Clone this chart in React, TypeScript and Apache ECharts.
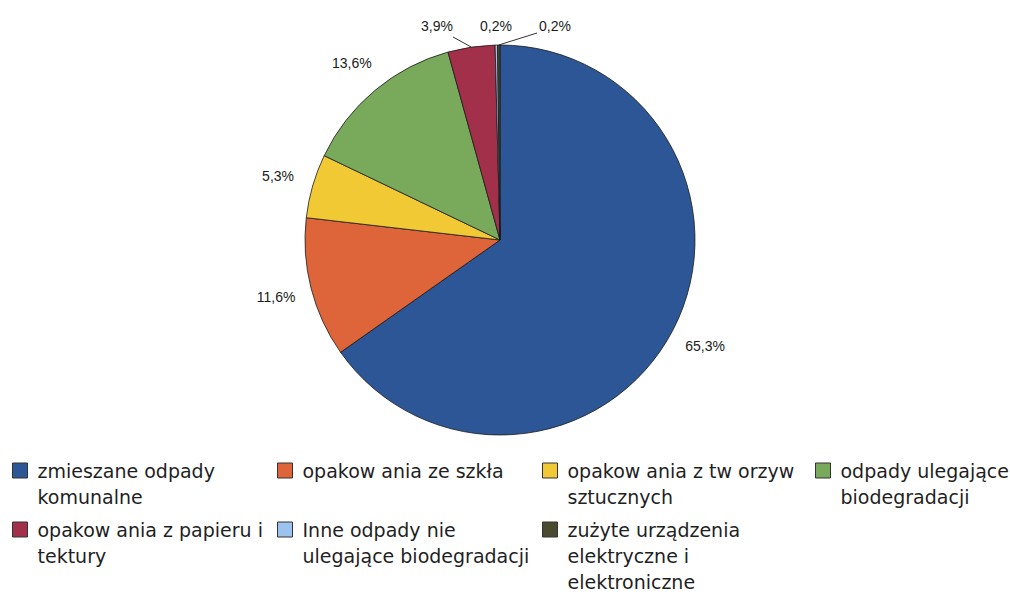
import React, { useEffect, useRef } from "react";
import * as echarts from "echarts";

const categories = [
  "zmieszane odpady\nkomunalne",
  "opakow ania ze szkła",
  "opakow ania z tw orzyw\nsztucznych",
  "odpady ulegające\nbiodegradacji",
  "opakow ania z papieru i\ntektury",
  "Inne odpady nie\nulegające biodegradacji",
  "zużyte urządzenia\nelektryczne i\nelektroniczne",
];
const values = [65.3, 11.6, 5.3, 13.6, 3.9, 0.2, 0.2];
const colors = ["#2D5696", "#DE643A", "#F1C935", "#79A95B", "#A3304B", "#9CC2EE", "#4A4A30"];

// legend grid: column & row index per category
const legendCols = [0, 1, 2, 3, 0, 1, 2];
const legendRows = [0, 0, 0, 0, 1, 1, 1];
const colLeft = [12, 277, 542, 815];
const rowTop = [463, 522];

const LINE_H = 26;
const ICON = 15;

export default function App() {
  const ref = useRef<HTMLDivElement>(null);
  useEffect(() => {
    if (!ref.current) return;
    const chart = echarts.init(ref.current, null, { renderer: "svg" });
    const fmt = (v: number) => v.toFixed(1).replace(".", ",") + "%";
    const smallIdx = [4, 5, 6];
    const smallPos: Record<number, [number, number]> = {
      4: [437, 26],
      5: [496, 26],
      6: [555, 26],
    };
    const lineEnd: Record<number, [number, number]> = {
      4: [453, 37],
      6: [537, 33],
    };

    const legends = categories.map((name, i) => {
      const n = name.split("\n").length;
      const offset = Math.max(0, ((2 * n - 1) * LINE_H) / 2 - ICON / 2);
      return {
        data: [name],
        left: colLeft[legendCols[i]],
        top: rowTop[legendRows[i]] - offset,
        orient: "horizontal",
        padding: 0,
        icon: "rect",
        itemWidth: ICON,
        itemHeight: ICON,
        selectedMode: false,
        formatter: (nm: string) => "\n".repeat(n - 1) + nm,
        itemStyle: { borderColor: "#333", borderWidth: 1 },
        textStyle: {
          fontFamily: "DejaVu Sans",
          fontSize: 19,
          lineHeight: LINE_H,
          color: "#1f1f1f",
          padding: [0, 0, 0, 5],
        },
      };
    });

    const data = categories.map((name, i) => ({
      name,
      value: values[i],
      itemStyle: { color: colors[i] },
    }));

    chart.setOption({
      animation: false,
      backgroundColor: "#fff",
      legend: legends,
      series: [
        {
          type: "pie",
          center: [500, 240],
          radius: 195,
          startAngle: 90,
          clockwise: true,
          minAngle: 0,
          avoidLabelOverlap: false,
          silent: true,
          itemStyle: { borderColor: "#1a1a1a", borderWidth: 0.8 },
          data: data.map((d, i) => ({
            ...d,
            label: { show: smallIdx.includes(i) },
            labelLine: { show: i === 4 || i === 6 },
          })),
          label: {
            position: "outside",
            formatter: (p: any) => fmt(p.value),
            fontFamily: "Liberation Sans",
            fontSize: 14,
            color: "#1a1a1a",
          },
          labelLine: {
            length: 8,
            length2: 4,
            lineStyle: { color: "#333", width: 1 },
          },
          labelLayout: (p: any) => {
            const pos = smallPos[p.dataIndex];
            if (!pos) return {};
            const out: any = { x: pos[0], y: pos[1], align: "center", verticalAlign: "middle" };
            const end = lineEnd[p.dataIndex];
            if (end && p.labelLinePoints && p.labelLinePoints.length) {
              out.labelLinePoints = [p.labelLinePoints[0], end];
            }
            return out;
          },
        },
        {
          type: "pie",
          center: [500, 240],
          radius: [195, 261],
          startAngle: 90,
          clockwise: true,
          silent: true,
          avoidLabelOverlap: false,
          itemStyle: { color: "rgba(0,0,0,0)", borderWidth: 0 },
          data: data.map((d, i) => ({
            name: d.name,
            value: d.value,
            itemStyle: { color: "rgba(0,0,0,0)" },
            label: { show: !smallIdx.includes(i) },
          })),
          label: {
            position: "inside",
            formatter: (p: any) => fmt(p.value),
            fontFamily: "Liberation Sans",
            fontSize: 14,
            color: "#1a1a1a",
          },
          labelLine: { show: false },
        },
      ],
    });
    return () => chart.dispose();
  }, []);
  return (
    <div
      ref={ref}
      style={{ position: "fixed", left: 0, top: 0, width: 1010, height: 596 }}
    />
  );
}
